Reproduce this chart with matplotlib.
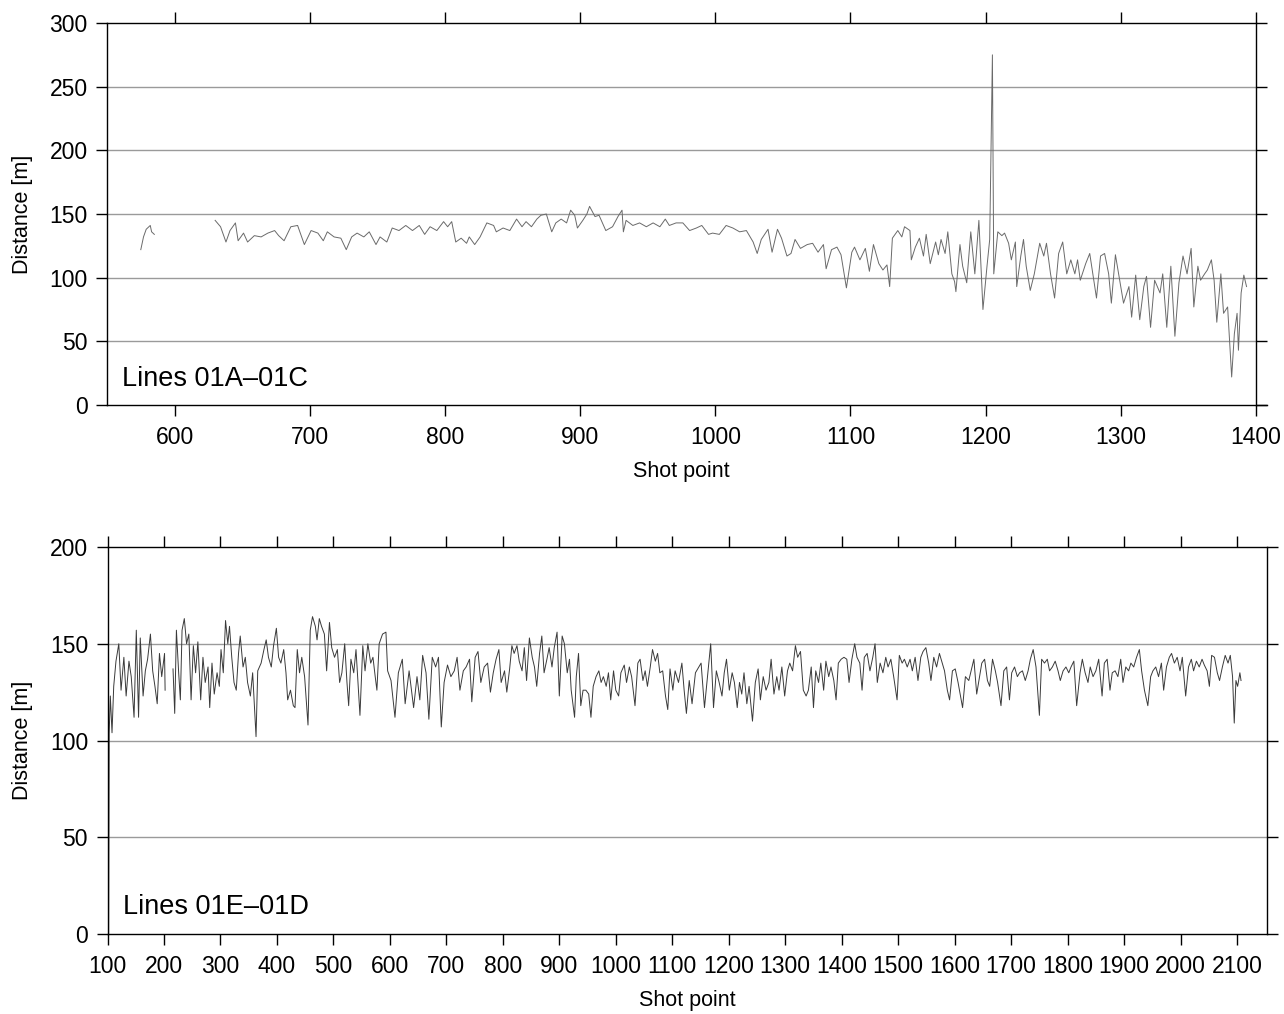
import numpy as np
import matplotlib
matplotlib.use("Agg")
import matplotlib.pyplot as plt

plt.rcParams['font.family'] = ['Liberation Sans', 'DejaVu Sans']

# Lines 01A-01C: short first stretch, gap, then the main run
shot_a1 = [575, 577, 579, 581, 582, 583, 585]
dist_a1 = [122, 132, 138, 140, 141, 136, 134]

shot_a2 = [630, 634, 638, 641, 645, 647, 651, 654, 659, 664, 669, 674, 677, 681, 686, 691, 696, 701, 706, 710,
           713, 718, 723, 727, 731, 735, 740, 744, 749, 752, 757, 761, 766, 771, 776, 781,
           785, 789, 794, 799, 802, 805, 808, 812, 816, 818, 822, 826, 831, 836, 838, 843, 848, 853, 857, 860,
           864, 868, 871, 875, 879, 882, 886, 890, 893, 896, 898, 902, 905, 907, 911, 914, 919, 924, 928, 931,
           932, 934, 939, 944, 949, 954, 959, 963, 966, 971, 976, 981, 986, 990, 995, 998,
           1003, 1008, 1013, 1018, 1023, 1028, 1031, 1034, 1039, 1042, 1046, 1049, 1053, 1056, 1059, 1063,
           1068, 1072, 1076, 1080, 1082, 1086, 1090, 1093, 1097, 1101, 1103, 1107, 1111, 1114, 1117, 1121,
           1124, 1127, 1129, 1131, 1135, 1138, 1140, 1144, 1145, 1148, 1151, 1154, 1156, 1159, 1163, 1165,
           1167, 1170, 1172, 1175, 1177, 1178, 1181, 1183, 1186, 1189, 1192, 1195, 1197,
           1198, 1201, 1203, 1205, 1206, 1209, 1212, 1214, 1217, 1219, 1222, 1223, 1226, 1228, 1230, 1233,
           1236, 1240, 1243, 1245, 1248, 1251, 1254, 1257, 1260, 1263, 1266, 1268, 1270, 1274, 1277, 1280,
           1282, 1285, 1288, 1291, 1293, 1296, 1299, 1302, 1306, 1308, 1311, 1314, 1317, 1319, 1322, 1325,
           1329, 1331, 1334, 1337, 1340, 1343, 1346, 1349, 1352, 1354, 1357, 1359, 1362, 1364, 1367, 1369,
           1371, 1374, 1376, 1379, 1380, 1382, 1384, 1386, 1387, 1389, 1391, 1393]
dist_a2 = [145, 140, 128, 137, 143, 129, 135, 128, 133, 132, 135, 137, 133, 129, 140, 141, 126, 137, 135, 129,
           136, 132, 131, 122, 132, 135, 132, 136, 126, 132, 128, 139, 137, 141, 137, 141,
           134, 140, 137, 144, 140, 144, 128, 131, 127, 132, 126, 132, 143, 141, 136, 139, 137, 146, 140, 144,
           140, 146, 149, 150, 136, 143, 146, 143, 153, 149, 139, 145, 150, 156, 148, 149, 137, 140, 148, 153,
           136, 145, 141, 143, 140, 143, 140, 146, 141, 143, 143, 137, 139, 141, 134, 135,
           134, 141, 139, 136, 137, 128, 119, 130, 138, 120, 138, 131, 117, 119, 130, 123,
           126, 127, 120, 126, 107, 122, 124, 118, 92, 120, 124, 114, 123, 105, 126, 111,
           106, 110, 93, 131, 137, 132, 140, 137, 114, 124, 131, 117, 134, 111, 128, 118,
           130, 119, 136, 103, 97, 89, 126, 109, 96, 136, 103, 145, 98,
           75, 109, 130, 275, 103, 136, 133, 135, 127, 114, 128, 93, 117, 130, 109, 90,
           103, 127, 117, 127, 103, 84, 119, 128, 103, 114, 103, 114, 98, 111, 119, 98,
           84, 117, 119, 103, 80, 118, 99, 80, 93, 69, 102, 67, 93, 101, 61, 98,
           88, 103, 61, 109, 54, 96, 117, 103, 123, 77, 109, 98, 103, 106, 114, 98,
           65, 103, 72, 77, 59, 22, 56, 72, 43, 88, 102, 93]

# Lines 01E-01D
shot_e = [102, 103, 105, 108, 111, 115, 120, 124, 129, 133, 138, 142, 147, 151, 155, 158, 163, 167, 171, 176,
          180, 184, 188, 192, 196, 201, 202, 209, 216, 219, 222, 226, 229, 232, 236, 240, 244, 248, 252, 256,
          260, 265, 269, 273, 278, 281, 285, 289, 294, 298, 301, 305, 309, 313, 316, 320, 324, 328, 332, 335,
          340, 344, 348, 353, 357, 363, 366, 372, 377, 381, 385, 390, 394, 399, 403, 407, 412, 416, 419, 424,
          429, 432, 436, 440, 444, 449, 455, 459, 463, 468, 471, 475, 479, 484, 488, 493, 497, 502, 507, 511,
          515, 520, 524, 527, 531, 536, 540, 547, 552, 556, 561, 566, 570, 574, 577,
          581, 587, 593, 596, 602, 609, 615, 622, 627, 634, 642, 648, 653, 658, 664, 669, 675, 681, 686, 691,
          696, 702, 708, 714, 719, 724, 730, 735, 741, 745, 751, 756, 761, 767, 773, 778, 783, 788, 793, 797,
          803, 807, 812, 816, 820, 825, 829, 834, 838, 842, 847, 852, 856, 860, 865, 869, 873, 878, 882, 887,
          891, 896, 900, 905, 909, 914, 918, 921, 927, 930, 934, 938, 942, 947, 952, 956, 960, 965, 970, 974,
          978, 983, 987, 991, 996, 1000, 1005, 1009, 1015, 1019, 1024, 1028, 1034, 1039, 1043, 1048, 1052,
          1056, 1061, 1065, 1070, 1074, 1078, 1083, 1088, 1092, 1096, 1101, 1105,
          1111, 1117, 1121, 1125, 1130, 1135, 1141, 1147, 1151, 1157, 1163, 1168, 1173, 1178, 1183, 1188,
          1192, 1196, 1201, 1206, 1210, 1215, 1219, 1223, 1227, 1232, 1236, 1242, 1247, 1252, 1256, 1261,
          1266, 1271, 1275, 1280, 1285, 1289, 1294, 1299, 1304, 1308, 1313, 1318, 1322, 1327, 1332, 1337,
          1341, 1346, 1350, 1354, 1359, 1363, 1368, 1372, 1377, 1381, 1386, 1390, 1394, 1399, 1404, 1409,
          1413, 1418, 1423, 1427, 1432, 1436, 1440, 1445, 1450, 1455, 1459, 1463, 1468, 1473, 1478, 1482,
          1487, 1492, 1498, 1502, 1507, 1511, 1516, 1521, 1525, 1530, 1535, 1540, 1544, 1549, 1554, 1558,
          1563, 1568, 1573, 1577, 1582, 1587, 1591, 1596, 1601, 1606,
          1614, 1619, 1625, 1629, 1634, 1639, 1643, 1648, 1653, 1658, 1662, 1667, 1672, 1676, 1682, 1687,
          1692, 1697, 1701, 1706, 1711, 1715, 1720, 1725, 1730, 1734, 1739, 1744, 1750, 1754, 1759, 1764,
          1768, 1773, 1778, 1783, 1787, 1792, 1797, 1802, 1806, 1811, 1816, 1822, 1826, 1831, 1836, 1840,
          1845, 1850, 1855, 1861, 1865, 1870, 1875, 1879, 1884, 1889, 1894, 1898, 1903, 1908, 1912, 1917,
          1922, 1927, 1931, 1936, 1942, 1947, 1951, 1956, 1961, 1966, 1970, 1975, 1980, 1984, 1989, 1994,
          1999, 2003, 2009, 2014, 2019, 2023, 2028, 2033, 2038, 2042, 2047, 2051, 2055, 2060, 2065, 2069,
          2074, 2079, 2084, 2088, 2092, 2095, 2098, 2101, 2105, 2107]
dist_e = [0, 104, 123, 104, 128, 141, 150, 126, 143, 123, 141, 133, 112, 157, 112, 153, 123, 136, 142, 155,
          136, 128, 119, 145, 133, 145, 126, np.nan, 137, 114, 157, 135, 121, 157, 163, 150, 155, 121, 149, 135,
          151, 121, 143, 130, 138, 117, 140, 124, 135, 128, 147, 135, 162, 150, 159, 143, 130, 126, 145, 154,
          138, 143, 130, 123, 135, 102, 136, 140, 147, 152, 143, 138, 149, 158, 143, 140, 147, 135, 121, 126,
          118, 117, 147, 135, 143, 133, 108, 157, 164, 159, 152, 163, 159, 155, 136, 161, 148, 143, 147, 130,
          135, 150, 130, 118, 142, 135, 147, 113, 149, 136, 150, 140, 143, 133, 126,
          150, 155, 156, 136, 131, 112, 135, 142, 119, 136, 117, 133, 121, 144, 135, 111, 143, 138, 143, 107,
          130, 139, 133, 136, 143, 126, 136, 138, 142, 120, 143, 146, 130, 138, 140, 125, 135, 142, 147, 130,
          136, 125, 137, 149, 145, 149, 141, 136, 148, 131, 153, 143, 138, 128, 145, 154, 135, 142, 148, 138,
          148, 156, 123, 154, 150, 135, 142, 126, 112, 133, 145, 118, 126, 126, 124, 112, 128, 133, 136, 130,
          133, 128, 135, 121, 136, 126, 123, 135, 139, 130, 138, 133, 118, 140, 142, 131, 136,
          128, 138, 147, 141, 145, 135, 136, 123, 116, 137, 126, 136,
          130, 140, 126, 114, 131, 119, 135, 138, 140, 117, 135, 150, 117, 136, 130, 123,
          135, 142, 126, 135, 130, 117, 130, 124, 135, 119, 128, 110, 130, 137, 121, 133,
          126, 130, 142, 124, 133, 126, 138, 123, 136, 140, 136, 149, 143, 146, 126, 123,
          126, 138, 117, 136, 130, 140, 126, 141, 133, 138, 131, 121, 140, 142, 143, 142,
          130, 142, 150, 143, 140, 126, 143, 145, 136, 143, 150, 130, 140, 135, 143, 138,
          142, 133, 121, 144, 140, 142, 138, 142, 136, 143, 131, 143, 146, 148, 140, 131,
          143, 138, 145, 141, 136, 126, 121, 136, 137, 130,
          117, 133, 131, 136, 142, 124, 131, 140, 142, 131, 128, 142, 136, 130, 118, 136,
          138, 121, 135, 138, 133, 135, 136, 131, 136, 142, 147, 138, 113, 142, 140, 142,
          136, 138, 141, 136, 131, 136, 138, 135, 138, 141, 118, 135, 142, 135, 130, 138,
          133, 136, 142, 123, 140, 142, 126, 135, 136, 133, 142, 130, 138, 136, 140, 138,
          143, 147, 136, 126, 118, 133, 136, 138, 133, 140, 126, 138, 143, 145, 140, 143,
          136, 143, 123, 138, 142, 136, 141, 138, 142, 139, 136, 128, 144, 143, 135, 131,
          138, 144, 140, 144, 133, 109, 131, 128, 135, 131]

grid_col = '#9a9a9a'
tick_size = 16.5
label_size = 15.5


def style_axes(ax, xticks, yticks):
    ax.set_xticks(xticks)
    ax.set_yticks(yticks)
    ax.tick_params(axis='both', which='both', direction='out', length=8, width=1,
                   labelsize=tick_size, top=True, right=True, labeltop=False, labelright=False,
                   colors='black')
    ax.tick_params(axis='x', pad=7)
    ax.tick_params(axis='y', pad=6)
    for side in ax.spines.values():
        side.set_linewidth(1)
        side.set_color('black')
    for y in yticks[1:-1]:
        ax.axhline(y, color=grid_col, lw=1, zorder=0)


fig = plt.figure(figsize=(12.84, 10.14), dpi=100)

# --- upper panel ---
ax1 = fig.add_axes([107 / 1284, 1 - 405 / 1014, (1256 - 107) / 1284, (405 - 23) / 1014])
ax1.plot(shot_a1, dist_a1, color='#6a6a6a', lw=0.7)
ax1.plot(shot_a2, dist_a2, color='#6a6a6a', lw=0.7)
ax1.set_xlim(550, 1400)
ax1.set_ylim(0, 300)
style_axes(ax1, np.arange(600, 1401, 100), np.arange(0, 301, 50))
ax1.spines['bottom'].set_bounds(550, 1408)
ax1.set_xlabel('Shot point', fontsize=label_size, labelpad=9)
ax1.set_ylabel('Distance [m]', fontsize=label_size, labelpad=12)
ax1.text(0.013, 0.035, 'Lines 01A\u201301C', transform=ax1.transAxes, fontsize=19.5, ha='left', va='bottom')

# --- lower panel ---
ax2 = fig.add_axes([107.5 / 1284, 1 - 934 / 1014, (1267 - 107.5) / 1284, (934 - 547) / 1014])
ax2.plot(shot_e, dist_e, color='#3a3a3a', lw=0.7)
ax2.set_xlim(100, 2153)
ax2.set_ylim(0, 200)
style_axes(ax2, np.arange(100, 2101, 100), np.arange(0, 201, 50))
ax2.set_xlabel('Shot point', fontsize=label_size, labelpad=9)
ax2.set_ylabel('Distance [m]', fontsize=label_size, labelpad=12)
ax2.text(0.013, 0.035, 'Lines 01E\u201301D', transform=ax2.transAxes, fontsize=19.5, ha='left', va='bottom')

fig.savefig('out.png', dpi=100)
